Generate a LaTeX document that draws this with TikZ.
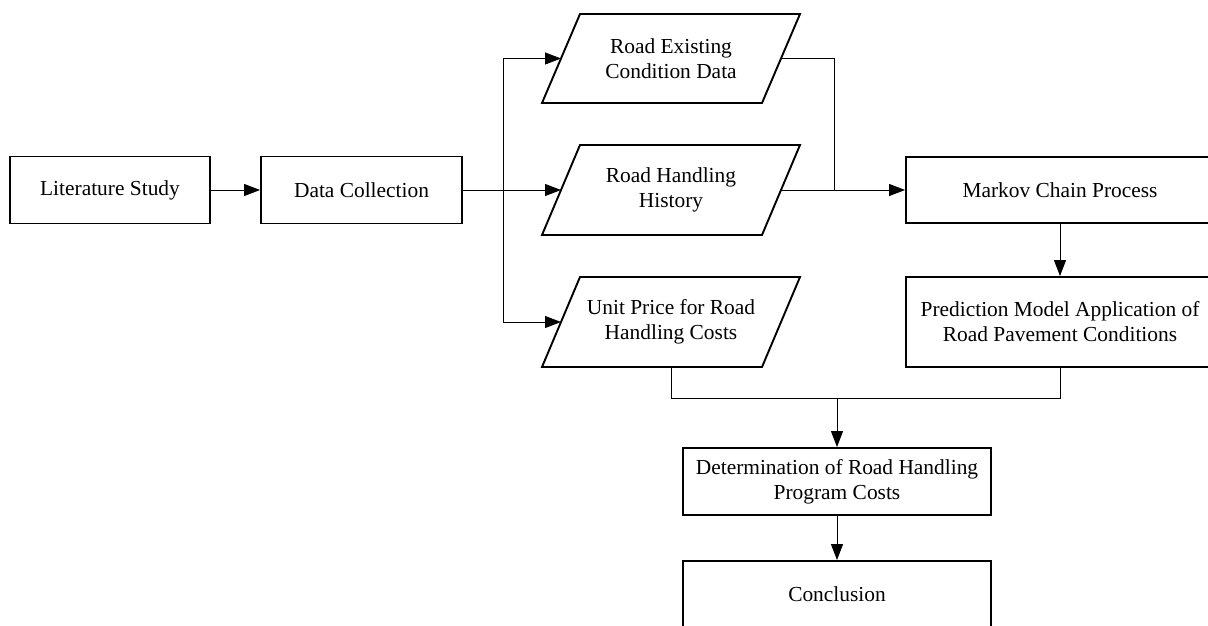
\documentclass[tikz,border=0pt]{standalone}
\usepackage{fontspec}
\setmainfont{Liberation Serif}
\usetikzlibrary{arrows.meta}
\begin{document}
\begin{tikzpicture}[x=1pt,y=-1pt,
  box/.style={draw,line width=1.9pt,inner sep=0pt,align=center,font=\fontsize{21.4}{25}\selectfont},
  para/.style={draw,line width=1.9pt,line join=miter},
  lbl/.style={inner sep=0pt,align=center,font=\fontsize{21.4}{25}\selectfont},
  conn/.style={line width=0.9pt},
  arr/.style={conn,-{Triangle[length=16pt,width=12pt]}}]
\clip (0,0) rectangle (1208,626);
\fill[white] (0,0) rectangle (1208,626);
% rectangles
\node[box,minimum width=200pt,minimum height=67pt] (lit) at (110,190) {Literature Study};
\node[box,minimum width=201pt,minimum height=67pt] (data) at (361.5,190) {Data Collection};
\node[box,minimum width=308pt,minimum height=66pt] (markov) at (1060,190) {Markov Chain Process};
\node[box,minimum width=308pt,minimum height=90pt] (pred) at (1060,322) {Prediction Model Application of\\Road Pavement Conditions};
\node[box,minimum width=308pt,minimum height=67pt] (det) at (837,481.5) {Determination of Road Handling\\Program Costs};
\node[box,minimum width=308pt,minimum height=67pt] (conc) at (837,594.5) {Conclusion};
% parallelograms
\draw[para] (580,14) -- (800,14) -- (762,103) -- (542,103) -- cycle;
\draw[para] (580,145) -- (800,145) -- (762,235) -- (542,235) -- cycle;
\draw[para] (580,277) -- (800,277) -- (762,367) -- (542,367) -- cycle;
\node[lbl] (p1) at (671,58.5) {Road Existing\\Condition Data};
\node[lbl] (p2) at (671,190) {Road Handling\\History};
\node[lbl] (p3) at (671,322) {Unit Price for Road\\Handling Costs};
\coordinate (p1w) at (561,58.5);
\coordinate (p1e) at (781,58.5);
\coordinate (p2w) at (561,190);
\coordinate (p2e) at (781,190);
\coordinate (p3w) at (561,322);
\coordinate (p3s) at (671,367);
\coordinate (split) at (503,190);
\coordinate (join) at (834,190);
\coordinate (merge) at (837,398);
% connectors
\draw[arr] (lit.east) -- (data.west);
\draw[conn] (data.east) -- (split);
\draw[arr] (split) -- (p2w);
\draw[arr] (split) |- (p1w);
\draw[arr] (split) |- (p3w);
\draw[conn] (p1e) -| (join);
\draw[arr] (p2e) -- (markov.west);
\draw[arr] (markov.south) -- (pred.north);
\draw[conn] (p3s) |- (merge);
\draw[conn] (pred.south) |- (merge);
\draw[arr] (merge) -- (det.north);
\draw[arr] (det.south) -- (conc.north);
\end{tikzpicture}
\end{document}
